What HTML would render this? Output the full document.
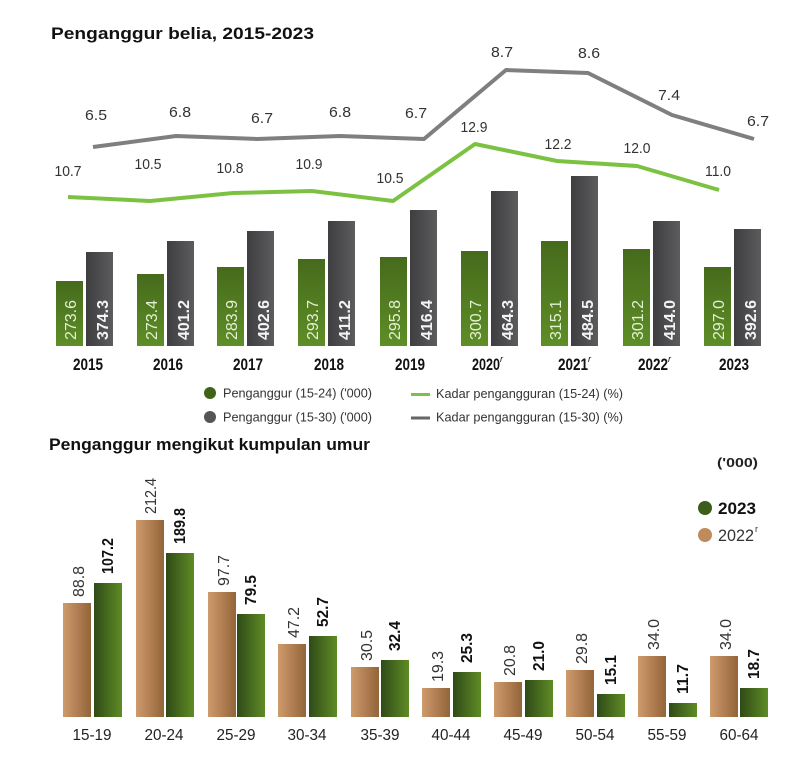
<!DOCTYPE html>
<html><head><meta charset="utf-8"><style>
html,body{margin:0;padding:0;background:#fff;}
svg{display:block;font-family:"Liberation Sans",Arial,sans-serif;}
</style></head><body>
<svg width="808" height="771" viewBox="0 0 808 771" xmlns="http://www.w3.org/2000/svg">
<defs>
<linearGradient id="gTop" x1="0" y1="0" x2="0" y2="1"><stop offset="0" stop-color="#466a1c"/><stop offset="1" stop-color="#5e8e26"/></linearGradient>
<linearGradient id="grayB" x1="0" y1="0" x2="1" y2="0"><stop offset="0" stop-color="#3e3e40"/><stop offset="1" stop-color="#5c5c5e"/></linearGradient>
<linearGradient id="tanB" x1="0" y1="0" x2="1" y2="0"><stop offset="0" stop-color="#cd9b6c"/><stop offset="1" stop-color="#94643a"/></linearGradient>
<linearGradient id="grnB" x1="0" y1="0" x2="1" y2="0"><stop offset="0" stop-color="#2f4a18"/><stop offset="1" stop-color="#5f8c24"/></linearGradient>
</defs>
<rect width="808" height="771" fill="#fff"/>

<!-- Title 1 -->
<text x="51" y="39" font-size="17" font-weight="bold" fill="#111" textLength="263" lengthAdjust="spacingAndGlyphs">Penganggur belia, 2015-2023</text>

<!-- Lines -->
<polyline points="93,147 176,136 257,139 340,136 424,139 506,70 588,73 672,115 754,139" fill="none" stroke="#7f7f7f" stroke-width="4" stroke-linejoin="round"/>
<polyline points="68,197 150,201 233,193 312,191 393,201 475,144 557,161 637,166 719,190" fill="none" stroke="#7cc242" stroke-width="4" stroke-linejoin="round"/>

<g font-size="15" fill="#333" text-anchor="middle">
<text x="96" y="120" textLength="22" lengthAdjust="spacingAndGlyphs">6.5</text>
<text x="180" y="117" textLength="22" lengthAdjust="spacingAndGlyphs">6.8</text>
<text x="262" y="123" textLength="22" lengthAdjust="spacingAndGlyphs">6.7</text>
<text x="340" y="117" textLength="22" lengthAdjust="spacingAndGlyphs">6.8</text>
<text x="416" y="118" textLength="22" lengthAdjust="spacingAndGlyphs">6.7</text>
<text x="502" y="57" textLength="22" lengthAdjust="spacingAndGlyphs">8.7</text>
<text x="589" y="58" textLength="22" lengthAdjust="spacingAndGlyphs">8.6</text>
<text x="669" y="100" textLength="22" lengthAdjust="spacingAndGlyphs">7.4</text>
<text x="758" y="126" textLength="22" lengthAdjust="spacingAndGlyphs">6.7</text>

<text x="68" y="176" textLength="27" lengthAdjust="spacingAndGlyphs">10.7</text>
<text x="148" y="169" textLength="27" lengthAdjust="spacingAndGlyphs">10.5</text>
<text x="230" y="173" textLength="27" lengthAdjust="spacingAndGlyphs">10.8</text>
<text x="309" y="169" textLength="27" lengthAdjust="spacingAndGlyphs">10.9</text>
<text x="390" y="183" textLength="27" lengthAdjust="spacingAndGlyphs">10.5</text>
<text x="474" y="132" textLength="27" lengthAdjust="spacingAndGlyphs">12.9</text>
<text x="558" y="149" textLength="27" lengthAdjust="spacingAndGlyphs">12.2</text>
<text x="637" y="153" textLength="27" lengthAdjust="spacingAndGlyphs">12.0</text>
<text x="718" y="176" textLength="26" lengthAdjust="spacingAndGlyphs">11.0</text>
</g>

<!-- Top bars -->
<g>
<rect x="56" y="281" width="27" height="65" fill="url(#gTop)"/><rect x="86" y="252" width="27" height="94" fill="url(#grayB)"/>
<rect x="137" y="274" width="27" height="72" fill="url(#gTop)"/><rect x="167" y="241" width="27" height="105" fill="url(#grayB)"/>
<rect x="217" y="267" width="27" height="79" fill="url(#gTop)"/><rect x="247" y="231" width="27" height="115" fill="url(#grayB)"/>
<rect x="298" y="259" width="27" height="87" fill="url(#gTop)"/><rect x="328" y="221" width="27" height="125" fill="url(#grayB)"/>
<rect x="380" y="257" width="27" height="89" fill="url(#gTop)"/><rect x="410" y="210" width="27" height="136" fill="url(#grayB)"/>
<rect x="461" y="251" width="27" height="95" fill="url(#gTop)"/><rect x="491" y="191" width="27" height="155" fill="url(#grayB)"/>
<rect x="541" y="241" width="27" height="105" fill="url(#gTop)"/><rect x="571" y="176" width="27" height="170" fill="url(#grayB)"/>
<rect x="623" y="249" width="27" height="97" fill="url(#gTop)"/><rect x="653" y="221" width="27" height="125" fill="url(#grayB)"/>
<rect x="704" y="267" width="27" height="79" fill="url(#gTop)"/><rect x="734" y="229" width="27" height="117" fill="url(#grayB)"/>
</g>
<g font-size="16" fill="#e4f0d4">
<text transform="translate(76,340) rotate(-90)" textLength="40" lengthAdjust="spacingAndGlyphs">273.6</text>
<text transform="translate(157,340) rotate(-90)" textLength="40" lengthAdjust="spacingAndGlyphs">273.4</text>
<text transform="translate(237,340) rotate(-90)" textLength="40" lengthAdjust="spacingAndGlyphs">283.9</text>
<text transform="translate(318,340) rotate(-90)" textLength="40" lengthAdjust="spacingAndGlyphs">293.7</text>
<text transform="translate(400,340) rotate(-90)" textLength="40" lengthAdjust="spacingAndGlyphs">295.8</text>
<text transform="translate(481,340) rotate(-90)" textLength="40" lengthAdjust="spacingAndGlyphs">300.7</text>
<text transform="translate(561,340) rotate(-90)" textLength="40" lengthAdjust="spacingAndGlyphs">315.1</text>
<text transform="translate(643,340) rotate(-90)" textLength="40" lengthAdjust="spacingAndGlyphs">301.2</text>
<text transform="translate(724,340) rotate(-90)" textLength="40" lengthAdjust="spacingAndGlyphs">297.0</text>
</g>
<g font-size="16" font-weight="bold" fill="#f4f4f4">
<text transform="translate(108,340) rotate(-90)" textLength="40" lengthAdjust="spacingAndGlyphs">374.3</text>
<text transform="translate(189,340) rotate(-90)" textLength="40" lengthAdjust="spacingAndGlyphs">401.2</text>
<text transform="translate(269,340) rotate(-90)" textLength="40" lengthAdjust="spacingAndGlyphs">402.6</text>
<text transform="translate(350,340) rotate(-90)" textLength="40" lengthAdjust="spacingAndGlyphs">411.2</text>
<text transform="translate(432,340) rotate(-90)" textLength="40" lengthAdjust="spacingAndGlyphs">416.4</text>
<text transform="translate(513,340) rotate(-90)" textLength="40" lengthAdjust="spacingAndGlyphs">464.3</text>
<text transform="translate(593,340) rotate(-90)" textLength="40" lengthAdjust="spacingAndGlyphs">484.5</text>
<text transform="translate(675,340) rotate(-90)" textLength="40" lengthAdjust="spacingAndGlyphs">414.0</text>
<text transform="translate(756,340) rotate(-90)" textLength="40" lengthAdjust="spacingAndGlyphs">392.6</text>
</g>

<!-- Year labels -->
<g font-size="17" font-weight="bold" fill="#111" text-anchor="middle">
<text x="88" y="370" textLength="30" lengthAdjust="spacingAndGlyphs">2015</text>
<text x="168" y="370" textLength="30" lengthAdjust="spacingAndGlyphs">2016</text>
<text x="248" y="370" textLength="30" lengthAdjust="spacingAndGlyphs">2017</text>
<text x="329" y="370" textLength="30" lengthAdjust="spacingAndGlyphs">2018</text>
<text x="410" y="370" textLength="30" lengthAdjust="spacingAndGlyphs">2019</text>
<text x="486" y="370" textLength="28" lengthAdjust="spacingAndGlyphs">2020</text>
<text x="573" y="370" textLength="30" lengthAdjust="spacingAndGlyphs">2021</text>
<text x="653" y="370" textLength="30" lengthAdjust="spacingAndGlyphs">2022</text>
<text x="734" y="370" textLength="30" lengthAdjust="spacingAndGlyphs">2023</text>
</g>
<g font-size="9" font-style="italic" fill="#111">
<text x="500" y="362">r</text>
<text x="588" y="362">r</text>
<text x="668" y="362">r</text>
</g>

<!-- Top legend -->
<circle cx="210" cy="393" r="6" fill="#3f6418"/>
<circle cx="210" cy="417" r="6" fill="#555"/>
<g font-size="13" fill="#333">
<text x="223" y="397.5" textLength="149" lengthAdjust="spacingAndGlyphs">Penganggur (15-24) ('000)</text>
<text x="223" y="421.5" textLength="149" lengthAdjust="spacingAndGlyphs">Penganggur (15-30) ('000)</text>
<text x="436" y="398" textLength="187" lengthAdjust="spacingAndGlyphs">Kadar pengangguran (15-24) (%)</text>
<text x="436" y="421.5" textLength="187" lengthAdjust="spacingAndGlyphs">Kadar pengangguran (15-30) (%)</text>
</g>
<line x1="411" y1="394.5" x2="430" y2="394.5" stroke="#7cc242" stroke-width="3"/>
<line x1="411" y1="418" x2="430" y2="418" stroke="#666" stroke-width="3"/>

<!-- Title 2 -->
<text x="49" y="450" font-size="17" font-weight="bold" fill="#111" textLength="321" lengthAdjust="spacingAndGlyphs">Penganggur mengikut kumpulan umur</text>

<!-- Bottom legend -->
<text x="717" y="467" font-size="13" font-weight="bold" fill="#222" textLength="41" lengthAdjust="spacingAndGlyphs">('000)</text>
<circle cx="705" cy="508" r="7" fill="#3c5e1a"/>
<circle cx="705" cy="535" r="7" fill="#c08a5a"/>
<text x="718" y="514" font-size="17" font-weight="bold" fill="#111" textLength="38" lengthAdjust="spacingAndGlyphs">2023</text>
<text x="718" y="541" font-size="17" fill="#333" textLength="36" lengthAdjust="spacingAndGlyphs">2022</text>
<text x="755" y="532" font-size="9" fill="#333">r</text>

<!-- Bottom bars -->
<g>
<rect x="63" y="603" width="28" height="114" fill="url(#tanB)"/><rect x="94" y="583" width="28" height="134" fill="url(#grnB)"/>
<rect x="136" y="520" width="28" height="197" fill="url(#tanB)"/><rect x="166" y="553" width="28" height="164" fill="url(#grnB)"/>
<rect x="208" y="592" width="28" height="125" fill="url(#tanB)"/><rect x="237" y="614" width="28" height="103" fill="url(#grnB)"/>
<rect x="278" y="644" width="28" height="73" fill="url(#tanB)"/><rect x="309" y="636" width="28" height="81" fill="url(#grnB)"/>
<rect x="351" y="667" width="28" height="50" fill="url(#tanB)"/><rect x="381" y="660" width="28" height="57" fill="url(#grnB)"/>
<rect x="422" y="688" width="28" height="29" fill="url(#tanB)"/><rect x="453" y="672" width="28" height="45" fill="url(#grnB)"/>
<rect x="494" y="682" width="28" height="35" fill="url(#tanB)"/><rect x="525" y="680" width="28" height="37" fill="url(#grnB)"/>
<rect x="566" y="670" width="28" height="47" fill="url(#tanB)"/><rect x="597" y="694" width="28" height="23" fill="url(#grnB)"/>
<rect x="638" y="656" width="28" height="61" fill="url(#tanB)"/><rect x="669" y="703" width="28" height="14" fill="url(#grnB)"/>
<rect x="710" y="656" width="28" height="61" fill="url(#tanB)"/><rect x="740" y="688" width="28" height="29" fill="url(#grnB)"/>
</g>
<g font-size="16" fill="#333">
<text transform="translate(84,597) rotate(-90)" textLength="31" lengthAdjust="spacingAndGlyphs">88.8</text>
<text transform="translate(156,514) rotate(-90)" textLength="36" lengthAdjust="spacingAndGlyphs">212.4</text>
<text transform="translate(229,586) rotate(-90)" textLength="31" lengthAdjust="spacingAndGlyphs">97.7</text>
<text transform="translate(299,638) rotate(-90)" textLength="31" lengthAdjust="spacingAndGlyphs">47.2</text>
<text transform="translate(372,661) rotate(-90)" textLength="31" lengthAdjust="spacingAndGlyphs">30.5</text>
<text transform="translate(443,682) rotate(-90)" textLength="31" lengthAdjust="spacingAndGlyphs">19.3</text>
<text transform="translate(515,676) rotate(-90)" textLength="31" lengthAdjust="spacingAndGlyphs">20.8</text>
<text transform="translate(587,664) rotate(-90)" textLength="31" lengthAdjust="spacingAndGlyphs">29.8</text>
<text transform="translate(659,650) rotate(-90)" textLength="31" lengthAdjust="spacingAndGlyphs">34.0</text>
<text transform="translate(731,650) rotate(-90)" textLength="31" lengthAdjust="spacingAndGlyphs">34.0</text>
</g>
<g font-size="16" font-weight="bold" fill="#111">
<text transform="translate(113,574) rotate(-90)" textLength="36" lengthAdjust="spacingAndGlyphs">107.2</text>
<text transform="translate(185,544) rotate(-90)" textLength="36" lengthAdjust="spacingAndGlyphs">189.8</text>
<text transform="translate(256,605) rotate(-90)" textLength="30" lengthAdjust="spacingAndGlyphs">79.5</text>
<text transform="translate(328,627) rotate(-90)" textLength="30" lengthAdjust="spacingAndGlyphs">52.7</text>
<text transform="translate(400,651) rotate(-90)" textLength="30" lengthAdjust="spacingAndGlyphs">32.4</text>
<text transform="translate(472,663) rotate(-90)" textLength="30" lengthAdjust="spacingAndGlyphs">25.3</text>
<text transform="translate(544,671) rotate(-90)" textLength="30" lengthAdjust="spacingAndGlyphs">21.0</text>
<text transform="translate(616,685) rotate(-90)" textLength="30" lengthAdjust="spacingAndGlyphs">15.1</text>
<text transform="translate(688,694) rotate(-90)" textLength="30" lengthAdjust="spacingAndGlyphs">11.7</text>
<text transform="translate(759,679) rotate(-90)" textLength="30" lengthAdjust="spacingAndGlyphs">18.7</text>
</g>

<!-- Category labels -->
<g font-size="16" fill="#222" text-anchor="middle">
<text x="92" y="740" textLength="39" lengthAdjust="spacingAndGlyphs">15-19</text>
<text x="164" y="740" textLength="39" lengthAdjust="spacingAndGlyphs">20-24</text>
<text x="236" y="740" textLength="39" lengthAdjust="spacingAndGlyphs">25-29</text>
<text x="307" y="740" textLength="39" lengthAdjust="spacingAndGlyphs">30-34</text>
<text x="380" y="740" textLength="39" lengthAdjust="spacingAndGlyphs">35-39</text>
<text x="451" y="740" textLength="39" lengthAdjust="spacingAndGlyphs">40-44</text>
<text x="523" y="740" textLength="39" lengthAdjust="spacingAndGlyphs">45-49</text>
<text x="595" y="740" textLength="39" lengthAdjust="spacingAndGlyphs">50-54</text>
<text x="667" y="740" textLength="39" lengthAdjust="spacingAndGlyphs">55-59</text>
<text x="739" y="740" textLength="39" lengthAdjust="spacingAndGlyphs">60-64</text>
</g>
</svg>
</body></html>
